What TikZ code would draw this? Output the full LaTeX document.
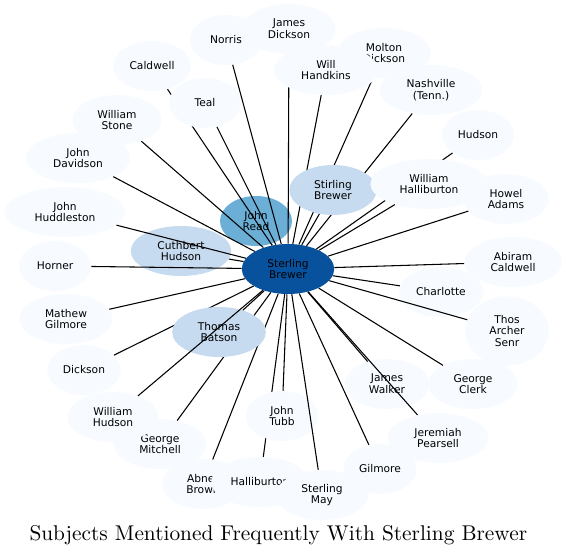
\documentclass[tikz,border=0pt]{standalone}
\usepackage{fontspec}
\usetikzlibrary{shapes.geometric}
\newfontfamily\labelfont{DejaVu Sans}
\newfontfamily\titlefont[Extension=.otf]{lmroman10-regular}
\definecolor{hubblue}{HTML}{08519C}
\definecolor{readblue}{HTML}{6BAED6}
\definecolor{midblue}{HTML}{C6DBEF}
\definecolor{paleblue}{HTML}{F7FBFF}
\tikzset{
  subj/.style={ellipse, fill=paleblue, minimum width=54pt, minimum height=37.5pt,
    inner xsep=9pt, inner ysep=4pt, align=center,
    font=\labelfont\fontsize{8}{8.75}\selectfont},
  subjone/.style={subj, inner xsep=3.75pt},
  link/.style={line width=0.8pt},
}
\begin{document}
\begin{tikzpicture}[x=0.75pt,y=-0.75pt]
    \useasboundingbox (0,0) rectangle (567,557);

    % Zentrum
    \node[subj, fill=hubblue] (hub) at (288,269) {Sterling\\Brewer};

    % Knoten mit Kante, Reihenfolge = Ueberdeckung
    \node[subj, fill=midblue] (cuthbert) at (181,251) {Cuthbert\\Hudson};
    \draw[link] (hub) -- (cuthbert);
    \node[subj, fill=readblue] (read) at (256,221) {John\\Read};
    \draw[link] (hub) -- (read);
    \node[subjone] (dickson) at (84,370) {Dickson};
    \draw[link] (hub) -- (dickson);
    \node[subj] (mitchell) at (160,444) {George\\Mitchell};
    \draw[link] (hub) -- (mitchell);
    \node[subj] (abner) at (203,484) {Abner\\Brown};
    \draw[link] (hub) -- (abner);
    \node[subj, fill=midblue] (batson) at (219,332) {Thomas\\Batson};
    \draw[link] (hub) -- (batson);
    \node[subj] (whudson) at (113,417) {William\\Hudson};
    \draw[link] (hub) -- (whudson);
    \node[subjone] (halliburton) at (260,482) {Halliburton};
    \draw[link] (hub) -- (halliburton);
    \node[subj] (tubb) at (282,416) {John\\Tubb};
    \draw[link] (hub) -- (tubb);
    \node[subj] (smay) at (322,495) {Sterling\\May};
    \draw[link] (hub) -- (smay);

    % oben links
    \node[subjone] (caldwell) at (152,66) {Caldwell};
    \draw[link] (hub) -- (caldwell);
    \node[subjone] (teal) at (205,103) {Teal};
    \draw[link] (hub) -- (teal);
    \node[subjone] (norris) at (226,40) {Norris};
    \draw[link] (hub) -- (norris);
    \node[subj] (wstone) at (117,120) {William\\Stone};
    \draw[link] (hub) -- (wstone);
    \node[subj] (davidson) at (78,158) {John\\Davidson};
    \draw[link] (hub) -- (davidson);
    \node[subj] (huddleston) at (65,212) {John\\Huddleston};
    \draw[link] (hub) -- (huddleston);
    \node[subjone] (horner) at (55,266) {Horner};
    \draw[link] (hub) -- (horner);
    \node[subj] (mgilmore) at (66,319) {Mathew\\Gilmore};
    \draw[link] (hub) -- (mgilmore);

    % oben rechts
    \node[subj] (jdickson) at (289,29) {James\\Dickson};
    \draw[link] (hub) -- (jdickson);
    \node[subj] (molton) at (384,53) {Molton\\Dickson};
    \draw[link] (hub) -- (molton);
    \node[subj] (handkins) at (326,70) {Will\\Handkins};
    \draw[link] (hub) -- (handkins);
    \node[subj] (nashville) at (431,90) {Nashville\\(Tenn.)};
    \draw[link] (hub) -- (nashville);
    \node[subj, fill=midblue] (stirling) at (333,190) {Stirling\\Brewer};
    \draw[link] (hub) -- (stirling);
    \node[subjone] (hudson) at (478,135) {Hudson};
    \draw[link] (hub) -- (hudson);
    \node[subj] (whall) at (429,184) {William\\Halliburton};
    \draw[link] (hub) -- (whall);
    \node[subj] (howel) at (506,199) {Howel\\Adams};
    \draw[link] (hub) -- (howel);

    % rechts und unten rechts
    \node[subj] (abiram) at (513,262) {Abiram\\Caldwell};
    \draw[link] (hub) -- (abiram);
    \node[subjone] (charlotte) at (441,292) {Charlotte};
    \draw[link] (hub) -- (charlotte);
    \node[subj, minimum height=52pt] (thos) at (507,331) {Thos\\Archer\\Senr};
    \draw[link] (hub) -- (thos);
    \node[subj] (clerk) at (473,384) {George\\Clerk};
    \draw[link] (hub) -- (clerk);
    \node[subj] (walker) at (387,384) {James\\Walker};
    \draw[link] (hub) -- (walker);
    \node[subj] (pearsell) at (438,438) {Jeremiah\\Pearsell};
    \draw[link] (hub) -- (pearsell);
    \node[subjone] (gilmore) at (380,469) {Gilmore};
    \draw[link] (hub) -- (gilmore);

    % Titel
    \node[anchor=base, font=\titlefont\fontsize{16}{19}\selectfont] (title) at (278.3,540.7)
      {Subjects Mentioned Frequently With Sterling Brewer};
\end{tikzpicture}
\end{document}
